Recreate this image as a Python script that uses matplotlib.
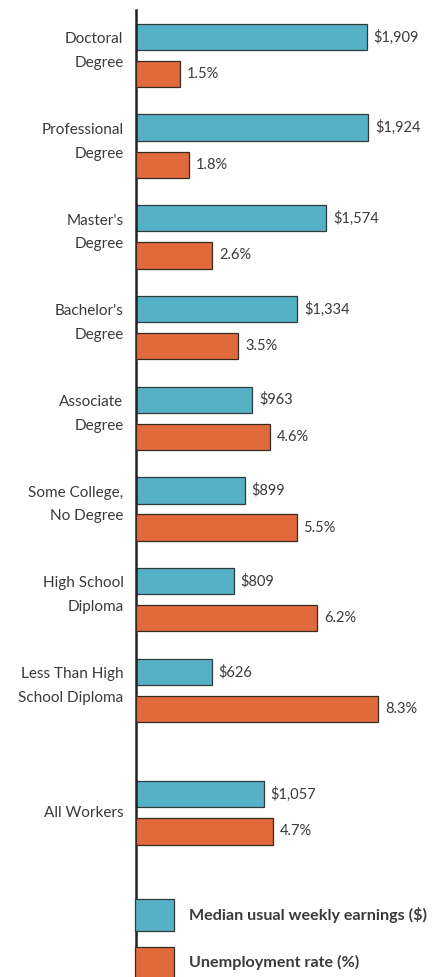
import matplotlib.pyplot as plt
import numpy as np

# data
levels = ["Doctoral\nDegree", "Professional\nDegree", "Master's\nDegree",
          "Bachelor's\nDegree", "Associate\nDegree", "Some College,\nNo Degree",
          "High School\nDiploma", "Less Than High\nSchool Diploma", "All Workers"]
earnings = [1909, 1924, 1574, 1334, 963, 899, 809, 626, 1057]
unemployment = [1.5, 1.8, 2.6, 3.5, 4.6, 5.5, 6.2, 8.3, 4.7]
earn_labels = ["$1,909", "$1,924", "$1,574", "$1,334", "$963", "$899", "$809", "$626", "$1,057"]
unemp_labels = ["1.5%", "1.8%", "2.6%", "3.5%", "4.6%", "5.5%", "6.2%", "8.3%", "4.7%"]

plt.rcParams['font.family'] = ['Lato', 'DejaVu Sans']

teal = '#55b1c4'
orange = '#e06a3c'
txt = '#3a3a3a'

# group positions, extra gap before "All Workers"
ypos = np.arange(len(levels), dtype=float)
ypos[-1] += 0.35

fig = plt.figure(figsize=(4.35, 9.77), dpi=100)
ax = fig.add_axes([136/435, 0, 299/435, 1])
ax2 = ax.twiny()

b1 = ax.barh(ypos - 0.205, earnings, height=0.29, color=teal, edgecolor='#2f3b3e',
             linewidth=0.9, label='Median usual weekly earnings ($)')
b2 = ax2.barh(ypos + 0.205, unemployment, height=0.29, color=orange, edgecolor='#3a2a22',
              linewidth=0.9, label='Unemployment rate (%)')

ax.bar_label(b1, labels=earn_labels, padding=5, fontsize=10.5, color=txt)
ax2.bar_label(b2, labels=unemp_labels, padding=5, fontsize=10.5, color=txt)

ax.set_xlim(0, 2475)
ax2.set_xlim(0, 10.24)
ax.set_ylim(10.16, -0.612)

# two-line labels start level with the teal bar
label_y = [y - 0.05 if '\n' in s else y for y, s in zip(ypos, levels)]
ax.set_yticks(label_y)
ax.set_yticklabels(levels, fontsize=11, color=txt, linespacing=1.88, va='center')
ax.tick_params(axis='y', length=0, pad=9)
ax.set_xticks([])
ax2.set_xticks([])

for a in (ax, ax2):
    for s in ['top', 'right', 'bottom', 'left']:
        a.spines[s].set_visible(False)
ax.spines['left'].set_visible(True)
ax.spines['left'].set_linewidth(1.8)
ax.spines['left'].set_color('#222222')
ax.spines['left'].set_bounds(-0.50, 10.16)

leg = fig.legend(handles=[b1, b2], loc='upper left',
                 bbox_to_anchor=(135/435, 1 - 899/977), frameon=False,
                 fontsize=11.6, handlelength=2.4, handleheight=2.7,
                 labelspacing=0.95, handletextpad=0.95, borderpad=0, borderaxespad=0)
for t in leg.get_texts():
    t.set_color(txt)
    t.set_fontweight('bold')

fig.savefig('out.png', dpi=100)
